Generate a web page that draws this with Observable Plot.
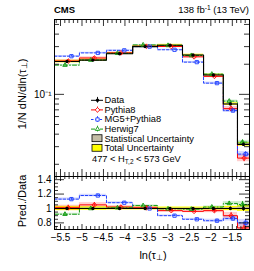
<!DOCTYPE html>
<html><head><meta charset="utf-8">
<script src="https://cdn.jsdelivr.net/npm/d3@7"></script>
<script src="https://cdn.jsdelivr.net/npm/@observablehq/plot@0.6"></script>
<style>
body{margin:0;background:#fff;font-family:"Liberation Sans",Arial,Helvetica,sans-serif;}
#wrap{position:relative;width:254px;height:271px;overflow:hidden;background:#fff;}
.abs{position:absolute;white-space:nowrap;color:#000;line-height:1;}
.abs sub{font-size:70%;vertical-align:-0.25em;line-height:0;}
.rot{transform:translate(-50%,-50%) rotate(-90deg);}
.ctr{transform:translate(-50%,-50%);}
</style></head><body><div id="wrap"></div>
<script>
// ---------------- data ----------------
const binEdges = [-5.64, -5.06, -4.43, -3.82, -3.24, -2.66, -2.17, -1.71, -1.38, -1.10];
const dataValues = [0.213, 0.220, 0.255, 0.300, 0.310, 0.247, 0.156, 0.080, 0.0316];
const dataStatRel = [0.006, 0.005, 0.004, 0.004, 0.004, 0.005, 0.006, 0.010, 0.018];
const dataTotalRel = [0.030, 0.025, 0.020, 0.020, 0.020, 0.020, 0.022, 0.030, 0.040];
const pythiaRatio = [1.01, 1.05, 1.02, 1.01, 0.97, 0.96, 0.97, 0.90, 0.73];
const pythiaRel = [0.035, 0.030, 0.020, 0.020, 0.020, 0.020, 0.030, 0.050, 0.080];
const mg5Ratio = [1.13, 1.18, 1.08, 1.00, 0.90, 0.85, 0.83, 0.86, 0.80];
const mg5Rel = [0.015, 0.015, 0.012, 0.012, 0.012, 0.015, 0.025, 0.040, 0.060];
const herwigRatio = [0.92, 1.00, 1.01, 1.04, 0.995, 0.99, 1.02, 1.07, 1.055];
const herwigRel = [0.015, 0.012, 0.010, 0.010, 0.010, 0.012, 0.015, 0.025, 0.040];
const seriesNames = ["Pythia8", "MG5+Pythia8", "Herwig7"];
const legendNames = ["Data", "Pythia8", "MG5+Pythia8", "Herwig7", "Statistical Uncertainty", "Total Uncertainty"];
const xMajorTicks = [-5.5, -5, -4.5, -4, -3.5, -3, -2.5, -2, -1.5];
const upperYMajor = [0.1];
const upperYMinor = [0.02, 0.03, 0.04, 0.05, 0.06, 0.07, 0.08, 0.09, 0.2, 0.3, 0.4, 0.5];
const upperYLabels = ["10⁻¹"];
const lowerYMajor = [0.8, 1, 1.2, 1.4];

// ---------------- styles ----------------
const styles = {
  "Pythia8": {color: "#ff0000", band: "#ff4040", dash: null, symbol: "diamond2", off: 0.05},
  "MG5+Pythia8": {color: "#1f3fff", band: "#5a6cff", dash: "2.5,1.8", symbol: "square2", off: 0.18},
  "Herwig7": {color: "#119a11", band: "#50c050", dash: "4,2,1,2", symbol: "triangle2", off: -0.08}
};
const statColor = "#c4bda6", totalColor = "#ffff00";
const FONT = '"Liberation Sans", Arial, Helvetica, sans-serif';

const seriesRatio = {"Pythia8": pythiaRatio, "MG5+Pythia8": mg5Ratio, "Herwig7": herwigRatio};
const seriesRel = {"Pythia8": pythiaRel, "MG5+Pythia8": mg5Rel, "Herwig7": herwigRel};

// ---------------- layout ----------------
const W = 254, H = 271, mL = 54, mR = 5, upTop = 19, split = 176, lowBottom = 229;
const PW = W - mL - mR;

const bins = dataValues.map((v, i) => ({i, x1: binEdges[i], x2: binEdges[i + 1],
  xc: (binEdges[i] + binEdges[i + 1]) / 2, w: binEdges[i + 1] - binEdges[i]}));
const stepPts = vals => vals.flatMap((v, i) => [{x: binEdges[i], y: v}, {x: binEdges[i + 1], y: v}]);
const xMinor = d3.range(-5.6, -1.1, 0.1).map(v => Math.round(v * 10) / 10).filter(v => !xMajorTicks.includes(v));
const lowerYMinor = d3.range(0.75, 1.44, 0.05).map(v => Math.round(v * 100) / 100).filter(v => !lowerYMajor.some(m => Math.abs(m - v) < 1e-6));

function panel(upper) {
  const height = upper ? split : H - split;
  const mTop = upper ? upTop : 0;
  const mBottom = upper ? 0 : H - lowBottom;
  const ph = height - mTop - mBottom;
  const val = (i, r) => upper ? dataValues[i] * r : r;
  const marks = [];
  marks.push(Plot.rect(bins, {x1: "x1", x2: "x2", y1: d => val(d.i, 1 - dataTotalRel[d.i]), y2: d => val(d.i, 1 + dataTotalRel[d.i]), fill: totalColor, clip: true}));
  marks.push(Plot.rect(bins, {x1: "x1", x2: "x2", y1: d => val(d.i, 1 - dataStatRel[d.i]), y2: d => val(d.i, 1 + dataStatRel[d.i]), fill: statColor, clip: true}));
  for (const s of seriesNames) {
    const R = seriesRatio[s], E = seriesRel[s], st = styles[s];
    marks.push(Plot.rect(bins, {x1: "x1", x2: "x2", y1: d => val(d.i, R[d.i] * (1 - E[d.i])), y2: d => val(d.i, R[d.i] * (1 + E[d.i])), fill: st.band, fillOpacity: 0.25, clip: true}));
  }
  for (const s of seriesNames) {
    const R = seriesRatio[s], st = styles[s];
    marks.push(Plot.line(stepPts(R.map((r, i) => val(i, r))), {x: "x", y: "y", stroke: st.color, strokeWidth: 1, strokeDasharray: st.dash, clip: true}));
  }
  marks.push(Plot.line(stepPts(dataValues.map((v, i) => val(i, 1))), {x: "x", y: "y", stroke: "black", strokeWidth: 1.1, clip: true}));
  for (const s of seriesNames) {
    const R = seriesRatio[s], E = seriesRel[s], st = styles[s];
    marks.push(Plot.ruleX(bins, {x: d => d.xc + st.off * d.w, y1: d => val(d.i, R[d.i] * (1 - E[d.i])), y2: d => val(d.i, R[d.i] * (1 + E[d.i])), stroke: st.color, strokeWidth: 0.9, clip: true}));
    marks.push(Plot.dot(bins, {x: d => d.xc + st.off * d.w, y: d => val(d.i, R[d.i]), symbol: st.symbol, r: 2.1, stroke: st.color, fill: "white", fillOpacity: 0, strokeWidth: 0.9, clip: true}));
  }
  marks.push(Plot.ruleX(bins, {x: "xc", y1: d => val(d.i, 1 - dataStatRel[d.i] * 2), y2: d => val(d.i, 1 + dataStatRel[d.i] * 2), stroke: "black", strokeWidth: 1}));
  marks.push(Plot.dot(bins, {x: "xc", y: d => val(d.i, 1), r: 1.7, fill: "black", stroke: "none"}));
  marks.push(Plot.frame({stroke: "black", strokeWidth: 1}));
  const xMajLen = upper ? 7 : 5, xMinLen = upper ? 4 : 3;
  marks.push(Plot.tickX(xMajorTicks, {x: d => d, insetBottom: ph - xMajLen, stroke: "black", strokeWidth: 0.8}));
  marks.push(Plot.tickX(xMinor, {x: d => d, insetBottom: ph - xMinLen, stroke: "black", strokeWidth: 0.8}));
  marks.push(Plot.tickX(xMajorTicks, {x: d => d, insetTop: ph - xMajLen, stroke: "black", strokeWidth: 0.8}));
  marks.push(Plot.tickX(xMinor, {x: d => d, insetTop: ph - xMinLen, stroke: "black", strokeWidth: 0.8}));
  const yMaj = upper ? upperYMajor : lowerYMajor, yMin = upper ? upperYMinor : lowerYMinor;
  const yMajLen = 10, yMinLen = upper ? 5 : 4;
  for (const side of ["L", "R"]) {
    const ins = len => side === "L" ? {insetRight: PW - len} : {insetLeft: PW - len};
    marks.push(Plot.tickY(yMaj, {y: d => d, ...ins(yMajLen), stroke: "black", strokeWidth: 0.8}));
    marks.push(Plot.tickY(yMin, {y: d => d, ...ins(yMinLen), stroke: "black", strokeWidth: 0.8}));
  }
  if (upper) {
    marks.push(Plot.text(upperYMajor, {y: d => d, text: (d, i) => upperYLabels[i], frameAnchor: "left", dx: -3, textAnchor: "end", fontSize: 10, fill: "black"}));
  } else {
    marks.push(Plot.text(lowerYMajor, {y: d => d, text: d => String(d), frameAnchor: "left", dx: -3, textAnchor: "end", fontSize: 10, fill: "black"}));
    marks.push(Plot.text(xMajorTicks, {x: d => d, text: d => d3.format("")(d), frameAnchor: "bottom", dy: 4, lineAnchor: "top", fontSize: 10, fill: "black"}));
  }
  return Plot.plot({
    width: W, height, marginLeft: mL, marginRight: mR, marginTop: mTop, marginBottom: mBottom,
    style: {fontFamily: FONT, fontSize: "10px", background: "transparent", overflow: "visible"},
    x: {domain: [binEdges[0], binEdges[binEdges.length - 1]], axis: null},
    y: upper ? {type: "log", domain: [0.0151, 0.56], axis: null} : {domain: [0.708, 1.444], axis: null},
    marks
  });
}

function legend() {
  const rows = legendNames.map((name, row) => ({name, row}));
  const lineRows = rows.slice(0, 4), boxRows = rows.slice(4);
  const marks = [];
  for (const r of lineRows) {
    const st = r.name === "Data" ? {color: "black", dash: null} : styles[r.name];
    marks.push(Plot.ruleY([r], {y: d => d.row + 0.5, x1: () => 3, x2: () => 15, stroke: st.color, strokeWidth: 1, strokeDasharray: st.dash}));
    marks.push(Plot.ruleX([r], {x: () => 9, y1: d => d.row + 0.2, y2: d => d.row + 0.8, stroke: st.color, strokeWidth: 0.9}));
    if (r.name === "Data") marks.push(Plot.dot([r], {x: () => 9, y: d => d.row + 0.5, r: 1.7, fill: "black"}));
    else marks.push(Plot.dot([r], {x: () => 9, y: d => d.row + 0.5, r: 2.1, symbol: st.symbol, stroke: st.color, fill: "white", strokeWidth: 0.9}));
  }
  marks.push(Plot.rect(boxRows, {x1: () => 4, x2: () => 14, y1: d => d.row + 0.14, y2: d => d.row + 0.86, fill: d => d.row === 4 ? statColor : totalColor, stroke: "black", strokeWidth: 0.8}));
  marks.push(Plot.text(rows, {x: () => 16, y: d => d.row + 0.5, text: "name", textAnchor: "start", fontSize: 9.3, fill: "black"}));
  return Plot.plot({
    width: 130, height: 58, margin: 0,
    style: {fontFamily: FONT, background: "transparent", overflow: "visible"},
    x: {domain: [0, 130], range: [0, 130], axis: null},
    y: {domain: [0, 6], range: [0, 57.6], axis: null},
    color: {type: "identity"},
    marks
  });
}

const wrap = document.getElementById("wrap");
function place(node, left, top) {
  node.style.position = "absolute"; node.style.left = left + "px"; node.style.top = top + "px";
  wrap.appendChild(node);
}
place(panel(true), 0, 0);
place(panel(false), 0, split);
place(legend(), 88, 95);

function addText(html, css, cls) {
  const d = document.createElement("div");
  d.className = "abs " + (cls || "");
  d.innerHTML = html;
  Object.assign(d.style, css);
  wrap.appendChild(d);
}
addText("CMS", {left: "54px", top: "5px", fontSize: "9.5px", fontWeight: "bold"});
addText("138 fb<sup style='font-size:70%;vertical-align:0.45em;line-height:0'>-1</sup> (13 TeV)", {right: "5px", top: "5px", fontSize: "9.5px"});
addText("477 &lt; H<sub>T,2</sub> &lt; 573 GeV", {left: "92px", top: "155px", fontSize: "9.3px"});
addText("1/N dN/dln(τ<sub>⊥</sub>)", {left: "22px", top: "94px", fontSize: "11px"}, "rot");
addText("Pred./Data", {left: "22px", top: "201px", fontSize: "11px"}, "rot");
addText("ln(τ<sub>⊥</sub>)", {left: "153px", top: "255px", fontSize: "11px"}, "ctr");
</script></body></html>
